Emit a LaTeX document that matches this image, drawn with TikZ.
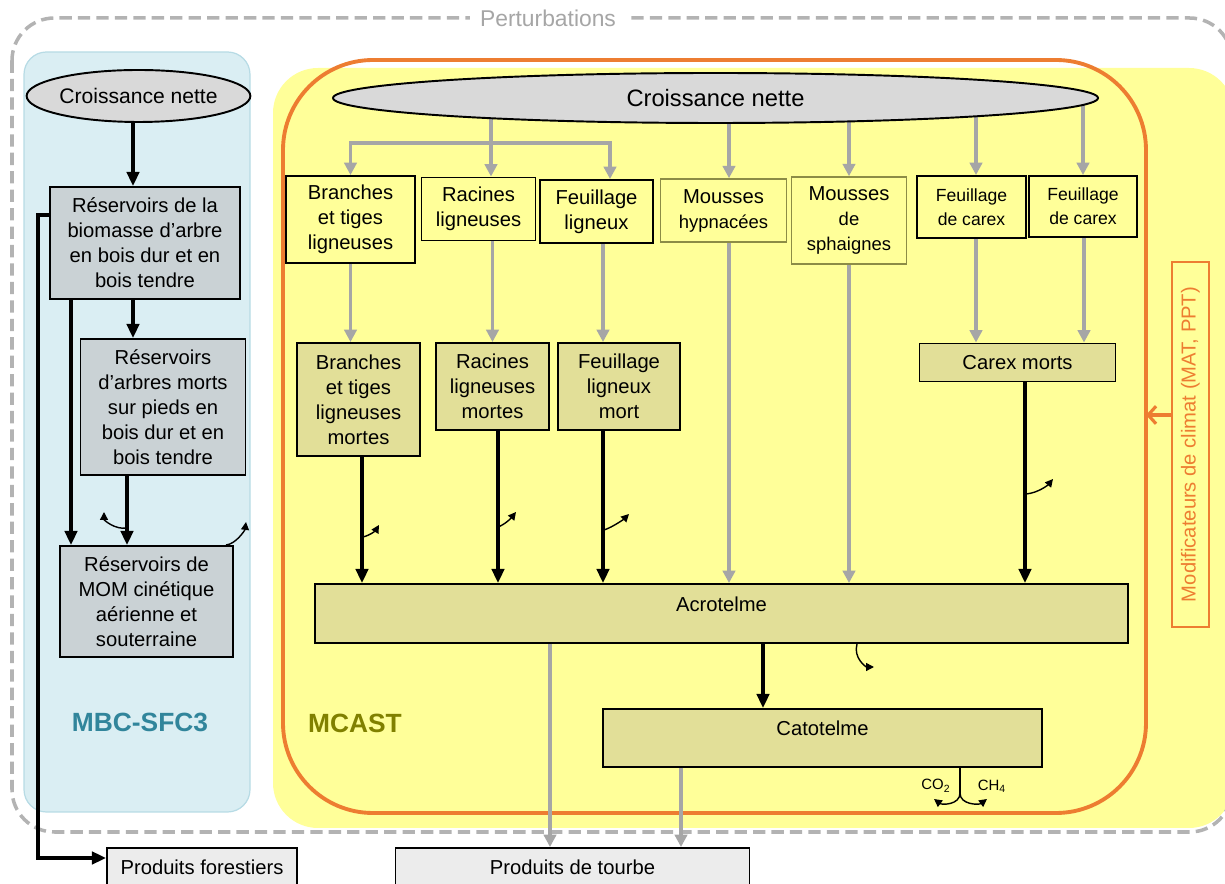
\documentclass[tikz,border=0pt]{standalone}
\usepackage{fontspec}
\setmainfont{Liberation Sans}
\usetikzlibrary{arrows.meta, shapes.geometric}

\definecolor{jaune}{RGB}{255,255,153}
\definecolor{kaki}{RGB}{226,223,152}
\definecolor{bleuclair}{RGB}{218,238,243}
\definecolor{bleubord}{RGB}{183,219,229}
\definecolor{ardoise}{RGB}{202,210,213}
\definecolor{grisovale}{RGB}{217,217,217}
\definecolor{grisfleche}{RGB}{166,166,166}
\definecolor{grisprod}{RGB}{236,236,236}
\definecolor{orangeclim}{RGB}{237,125,49}
\definecolor{sarcelle}{RGB}{49,133,155}
\definecolor{vertolive}{RGB}{128,128,0}
\definecolor{bordmousse}{RGB}{140,140,70}

\pgfdeclarelayer{fond}
\pgfdeclarelayer{dessous}
\pgfsetlayers{fond,dessous,main}

\begin{document}
\begin{tikzpicture}[x=0.02cm, y=-0.02cm,
	boite/.style = {draw, line width=1.1pt, align=center, inner sep=0pt,
		font=\fontsize{11.5}{14.2}\selectfont},
	taille/.style 2 args = {minimum width=#1*0.02cm, minimum height=#2*0.02cm},
	mousse/.style = {boite, draw=bordmousse, line width=0.9pt},
	ovale/.style = {ellipse, draw, line width=1.1pt, fill=grisovale, inner sep=0pt},
	noir/.style = {line width=2.4pt, -{Triangle[length=8pt, width=7pt]}},
	gris/.style = {draw=grisfleche, line width=2.1pt, -{Triangle[length=7pt, width=7pt]}},
	grisligne/.style = {draw=grisfleche, line width=2.1pt},
	emis/.style = {line width=0.8pt, -{Triangle[length=4.5pt, width=4.5pt]}},
	pointille/.style = {draw=grisfleche!85, line width=2pt, dash pattern=on 7pt off 3.5pt}]

\useasboundingbox (0,0) rectangle (1225,884);

\begin{pgfonlayer}{fond}
	\filldraw[fill=bleuclair, draw=bleubord, line width=0.7pt, rounded corners=0.45cm]
		(24,52) rectangle (250,812);
	\fill[jaune, rounded corners=0.9cm]
		(273,68) rectangle (1234,828);
	\draw[orangeclim, line width=2.2pt, rounded corners=1.8cm]
		(283,60) rectangle (1146,813);
	\draw[pointille, rounded corners=0.85cm]
		(12,18) rectangle (1232,832);
\end{pgfonlayer}

\node[fill=white, text=grisfleche, font=\fontsize{13}{15}\selectfont,
	inner xsep=6pt, inner ysep=1pt] (pert) at (548,18) {Perturbations};
\node[font=\bfseries\fontsize{15}{18}\selectfont, text=sarcelle] (mbc) at (140,722) {MBC-SFC3};
\node[font=\bfseries\fontsize{15}{18}\selectfont, text=vertolive] (mcast) at (355,723) {MCAST};

% MBC-SFC3
\node[ovale, taille={197}{52}, font=\fontsize{12}{14}\selectfont] (croisG) at (138.5,96) {Croissance nette};
\node[boite, fill=ardoise, taille={190}{112}] (resBio) at (145,243)
	{Réservoirs de la\\biomasse d’arbre\\en bois dur et en\\bois tendre};
\node[boite, fill=ardoise, taille={165}{136}] (resMorts) at (163,407)
	{Réservoirs\\d’arbres morts\\sur pieds en\\bois dur et en\\bois tendre};
\node[boite, fill=ardoise, taille={173}{111}] (resMOM) at (146.5,601.5)
	{Réservoirs de\\MOM cinétique\\aérienne et\\souterraine};
\node[boite, fill=grisprod, taille={190}{38}] (prodFor) at (202,867) {Produits forestiers};

% MCAST
\node[ovale, taille={765}{50}, font=\fontsize{13.5}{16}\selectfont] (croisD) at (715.5,98) {Croissance nette};
\node[boite, taille={129}{87}] (brT) at (350.5,219.5) {Branches\\et tiges\\ligneuses};
\node[boite, taille={114}{63}] (racT) at (478.5,209) {Racines\\ligneuses};
\node[boite, taille={113}{63}] (flT) at (596.5,211.5) {Feuillage\\ligneux};
\node[mousse, taille={126}{63}] (mhT) at (723.5,210.5)
	{Mousses\\{\fontsize{10.5}{13}\selectfont hypnacées}};
\node[mousse, taille={115}{87}, font=\fontsize{10.5}{14}\selectfont] (msT) at (849,220.5)
	{{\fontsize{11.5}{14}\selectfont Mousses}\\de\\sphaignes};
\node[boite, taille={109}{62}, font=\fontsize{10}{13.5}\selectfont] (fc1) at (971.5,207) {Feuillage\\de carex};
\node[boite, taille={108}{61}, font=\fontsize{10}{13.5}\selectfont] (fc2) at (1083,206.5) {Feuillage\\de carex};

\node[boite, fill=kaki, taille={123}{113}] (brM) at (358.5,399.5) {Branches\\et tiges\\ligneuses\\mortes};
\node[boite, fill=kaki, taille={113}{87}] (racM) at (492.5,386.5) {Racines\\ligneuses\\mortes};
\node[boite, fill=kaki, taille={122}{87}] (flM) at (619,386.5) {Feuillage\\ligneux\\mort};
\node[boite, fill=kaki, taille={196}{38}] (cxM) at (1017.5,362.5) {Carex morts};

\node[boite, fill=kaki, taille={813}{59}, text height=8.5pt, text depth=11pt] (acro) at (721.5,613.5) {Acrotelme};
\node[boite, fill=kaki, taille={439}{58}, text height=8.5pt, text depth=11pt] (cato) at (822.5,738) {Catotelme};
\node[boite, fill=grisprod, taille={354}{38}] (prodT) at (572.5,867) {Produits de tourbe};

\node[draw=orangeclim, line width=1.1pt, text=orangeclim, rotate=90, inner sep=0pt,
	taille={365}{37}, font=\fontsize{11.5}{14}\selectfont] (clim) at (1190.5,444.5)
	{Modificateurs de climat (MAT, PPT)};
\coordinate (bordMCAST) at (1146,415);
\draw[orangeclim, line width=1.8pt, -{Straight Barb[length=4.5pt, width=10pt]}]
	(clim.north |- bordMCAST) -- (bordMCAST);

\begin{pgfonlayer}{dessous}
	\coordinate (fourche) at (491,143);
	\draw[grisligne] (croisD.center -| fourche) -- (fourche);
	\draw[gris] (fourche) -| (brT.north);
	\draw[gris] (fourche) -- (fourche |- racT.north);
	\draw[gris] (fourche) -| (610,0 |- flT.north);
	\draw[gris] (croisD.center -| 729,0) -- (mhT.north -| 729,0);
	\draw[gris] (croisD.center -| msT.north) -- (msT.north);
	\draw[gris] (croisD.center -| 976,0) -- (fc1.north -| 976,0);
	\draw[gris] (croisD.center -| fc2.north) -- (fc2.north);
\end{pgfonlayer}

\draw[noir] (133,0 |- croisG.south) -- (133,0 |- resBio.north);
\draw[noir] (133,0 |- resBio.south) -- (133,0 |- resMorts.north);
\draw[noir] (127,0 |- resMorts.south) -- (127,0 |- resMOM.north);
\draw[noir] (71,0 |- resBio.south) -- (71,0 |- resMOM.north);
\draw[noir] (resBio.west |- 0,215) -| (38,858) -- (prodFor.west |- 0,858);

\draw[gris] (brT.south) -- (brT.south |- brM.north);
\draw[gris] (racT.south -| racM.north) -- (racM.north);
\draw[gris] (flT.south -| 603,0) -- (flM.north -| 603,0);
\draw[gris] (mhT.south -| 729,0) -- (acro.north -| 729,0);
\draw[gris] (msT.south) -- (msT.south |- acro.north);
\draw[gris] (fc1.south -| 976,0) -- (cxM.north -| 976,0);
\draw[gris] (fc2.south -| 1084,0) -- (cxM.north -| 1084,0);

\draw[noir] (brM.south -| 362,0) -- (acro.north -| 362,0);
\draw[noir] (racM.south -| 498,0) -- (acro.north -| 498,0);
\draw[noir] (flM.south -| 603,0) -- (acro.north -| 603,0);
\draw[noir] (cxM.south -| 1025,0) -- (acro.north -| 1025,0);
\draw[noir] (acro.south -| 763,0) -- (cato.north -| 763,0);

\draw[gris] (acro.south -| 550,0) -- (prodT.north -| 550,0);
\draw[gris] (cato.south -| 681,0) -- (prodT.north -| 681,0);

\draw[emis] (363,537) .. controls +(8,-2) and +(-3,5) .. (379,525);
\draw[emis] (498,527) .. controls +(8,-3) and +(-4,5) .. (516,512);
\draw[emis] (604,530) .. controls +(9,-3) and +(-5,5) .. (629,514);
\draw[emis] (1026,494) .. controls +(12,-1) and +(-5,6) .. (1053,479);
\draw[emis] (acro.south -| 857,0) .. controls +(-4,14) and +(-8,0) .. (874,667);
\draw[emis] (127,528) .. controls +(-12,2) and +(0,8) .. (104,512);
\draw[emis] (resMOM.north -| 226,0) .. controls +(10,-1) and +(-1,8) .. (246,522);

\coordinate (sortie) at (960,793);
\draw[line width=0.8pt] (cato.south -| sortie) -- (sortie);
\draw[emis] (sortie) .. controls +(0,12) and +(8,6) .. (934,799);
\draw[emis] (sortie) .. controls +(0,12) and +(-8,6) .. (987,799);
\node[font=\fontsize{8.5}{10}\selectfont] (co2) at (936,786) {CO\textsubscript{2}};
\node[font=\fontsize{8.5}{10}\selectfont] (ch4) at (992,786) {CH\textsubscript{4}};
\end{tikzpicture}
\end{document}
